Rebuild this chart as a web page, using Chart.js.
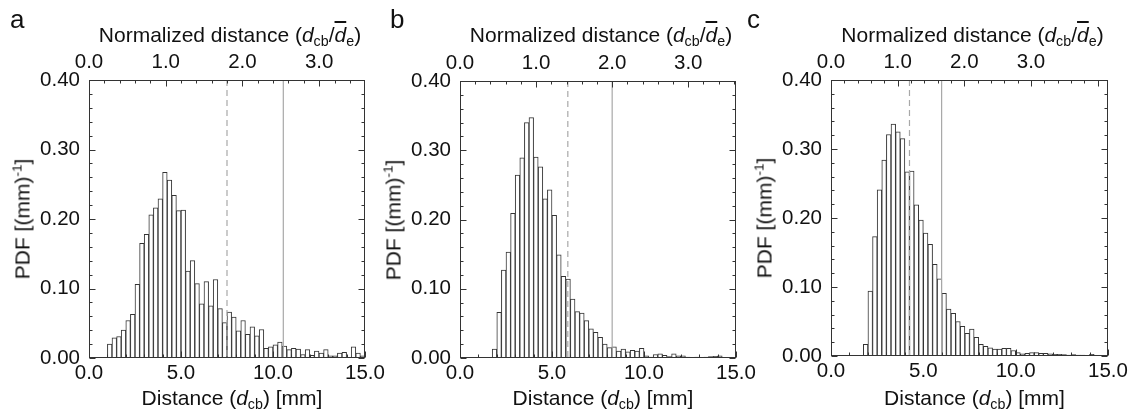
<!DOCTYPE html>
<html>
<head>
<meta charset="utf-8">
<script src="https://cdn.jsdelivr.net/npm/chart.js@4.4.1/dist/chart.umd.min.js"></script>
<style>
body { margin: 0; background: #fff; }
#fig { position: relative; width: 1137px; height: 415px; overflow: hidden; font-family: "Liberation Sans", Arial, sans-serif; color: #111; }
#fig canvas { position: absolute; top: 0; }
.lbl { position: absolute; font-size: 21px; line-height: 1; white-space: nowrap; }
.lbl sub { font-size: 0.68em; vertical-align: -0.3em; line-height: 0; }
.lbl sup { font-size: 0.65em; vertical-align: 0.6em; line-height: 0; }
.ovl { text-decoration: overline; }
.letter { position: absolute; font-size: 26px; line-height: 1; }
</style>
</head>
<body>
<div id="fig"></div>
<script>
// histogram bins: 0.25 mm wide, 0 - 15 mm
const binWidth = 0.25;
const binCount = 60;
const binLabels = Array.from({ length: binCount }, (_, i) => (i * binWidth + binWidth / 2).toFixed(3));

// PDF values, one per bin
const pdfA = [0, 0, 0, 0,
  0.020, 0.029, 0.031, 0.040, 0.054, 0.063, 0.106, 0.165, 0.178, 0.206, 0.216, 0.229, 0.267, 0.256, 0.234, 0.212,
  0.213, 0.125, 0.140, 0.107, 0.078, 0.110, 0.075, 0.113, 0.071, 0.051, 0.066, 0.059, 0.039, 0.054, 0.034, 0.045,
  0.032, 0.041, 0.014, 0.016, 0.019, 0.023, 0.017, 0.012, 0.014, 0.013, 0.005, 0.012, 0.004, 0.010, 0.007, 0.012,
  0.003, 0.003, 0.007, 0.008, 0.001, 0.016, 0.007, 0.003];
const pdfB = [0, 0, 0, 0, 0, 0, 0,
  0.013, 0.066, 0.127, 0.153, 0.209, 0.264, 0.289, 0.340, 0.347, 0.290, 0.276, 0.230, 0.243, 0.206, 0.149, 0.118,
  0.114, 0.085, 0.067, 0.065, 0.054, 0.042, 0.037, 0.030, 0.020, 0.015, 0.016, 0.010, 0.013, 0.009, 0.011, 0.010,
  0.014, 0.003, 0.0015, 0.005, 0.006, 0.004, 0.002, 0.006, 0.003, 0.003, 0.0015, 0.001, 0.0015, 0.001, 0.0015,
  0.002, 0.0025, 0.003, 0.001, 0, 0];
const pdfC = [0, 0, 0, 0, 0, 0, 0,
  0.017, 0.094, 0.173, 0.241, 0.284, 0.321, 0.336, 0.325, 0.315, 0.267, 0.268, 0.219, 0.197, 0.178, 0.162, 0.133,
  0.112, 0.091, 0.068, 0.062, 0.050, 0.043, 0.033, 0.039, 0.027, 0.017, 0.014, 0.012, 0.010, 0.010, 0.011, 0.011,
  0.008, 0.005, 0.003, 0.004, 0.005, 0.005, 0.004, 0.004, 0.003, 0.0025, 0.0025, 0.002, 0.0015, 0.002, 0.0015,
  0.0015, 0.001, 0.0025, 0.001, 0.0005, 0];

// mean spacing d_e (mm) used for the top axis, and the two marker lines (mm)
const meanSpacing = [4.17, 4.135, 3.61];
const dashedAt = [7.5, 5.86, 4.25];
const solidAt = [10.56, 8.27, 5.99];

// axis ranges / ticks
const pdfMax = 0.4, pdfStep = 0.1, pdfMinor = 0.02;
const distMax = 15, distStep = 5, distMinor = 1;
const normStep = 1, normMinor = 0.2, normLastLabel = 3;

const FONT = { family: '"Liberation Sans", Arial, sans-serif', size: 20.5 };
const TEXT = '#111';
const FRAME = '#333';
const H = 415;

const panels = [
  { letter: 'a', values: pdfA, canvasX: 0, canvasW: 400, area: { left: 89, right: 365, top: 80, bottom: 358 }, letterX: 10 },
  { letter: 'b', values: pdfB, canvasX: 370, canvasW: 420, area: { left: 460, right: 736, top: 81, bottom: 358 }, letterX: 390 },
  { letter: 'c', values: pdfC, canvasX: 737, canvasW: 400, area: { left: 831, right: 1108, top: 80, bottom: 356 }, letterX: 747 }
];

function drawTicks(ctx, scale, step, major, side, a) {
  for (let i = 0; i * step <= scale.max + 1e-9; i++) {
    const v = i * step;
    const r = v / major;
    const len = Math.abs(r - Math.round(r)) < 1e-6 ? 6 : 3;
    const p = Math.round(scale.getPixelForValue(v)) + 0.5;
    ctx.beginPath();
    if (side === 'left') { ctx.moveTo(a.left, p); ctx.lineTo(a.left + len, p); }
    if (side === 'right') { ctx.moveTo(a.right, p); ctx.lineTo(a.right - len, p); }
    if (side === 'bottom') { ctx.moveTo(p, a.bottom); ctx.lineTo(p, a.bottom - len); }
    if (side === 'top') { ctx.moveTo(p, a.top); ctx.lineTo(p, a.top + len); }
    ctx.stroke();
  }
}

const frameAndLines = {
  id: 'frameAndLines',
  afterDatasetsDraw(chart, args, opts) {
    const { ctx, chartArea: a, scales } = chart;
    ctx.save();
    // marker lines
    const xm = scales.xmm;
    ctx.lineWidth = 1.2;
    ctx.strokeStyle = '#a8a8a8';
    ctx.setLineDash([6, 4]);
    let px = xm.getPixelForValue(opts.dashed);
    ctx.beginPath(); ctx.moveTo(px, a.top); ctx.lineTo(px, a.bottom); ctx.stroke();
    ctx.setLineDash([]);
    px = xm.getPixelForValue(opts.solid);
    ctx.beginPath(); ctx.moveTo(px, a.top); ctx.lineTo(px, a.bottom); ctx.stroke();

    // frame
    ctx.strokeStyle = FRAME;
    ctx.lineWidth = 1;
    ctx.strokeRect(a.left + 0.5, a.top + 0.5, a.right - a.left - 1, a.bottom - a.top - 1);
    const b = { left: a.left + 0.5, right: a.right - 0.5, top: a.top + 0.5, bottom: a.bottom - 0.5 };
    drawTicks(ctx, scales.y, pdfMinor, pdfStep, 'left', b);
    drawTicks(ctx, scales.y, pdfMinor, pdfStep, 'right', b);
    drawTicks(ctx, scales.xmm, distMinor, distStep, 'bottom', b);
    drawTicks(ctx, scales.xn, normMinor, normStep, 'top', b);
    ctx.restore();
  }
};

const fig = document.getElementById('fig');

function addLabel(html, cls, css) {
  const d = document.createElement('div');
  d.className = cls;
  d.innerHTML = html;
  Object.assign(d.style, css);
  fig.appendChild(d);
  return d;
}

panels.forEach((p, idx) => {
  const canvas = document.createElement('canvas');
  canvas.width = p.canvasW;
  canvas.height = H;
  canvas.style.left = p.canvasX + 'px';
  fig.appendChild(canvas);
  const ar = p.area;

  new Chart(canvas.getContext('2d'), {
    type: 'bar',
    data: {
      labels: binLabels,
      datasets: [{
        data: p.values,
        xAxisID: 'x',
        yAxisID: 'y',
        backgroundColor: '#fff',
        borderColor: '#333',
        borderWidth: 1,
        categoryPercentage: 1,
        barPercentage: 1
      }]
    },
    options: {
      responsive: false,
      animation: false,
      events: [],
      layout: { padding: { left: 0, top: 0, bottom: 0, right: p.canvasW - (ar.right - p.canvasX) } },
      plugins: {
        legend: { display: false },
        tooltip: { enabled: false },
        frameAndLines: { dashed: dashedAt[idx], solid: solidAt[idx] }
      },
      scales: {
        x: { type: 'category', display: false },
        y: {
          min: 0, max: pdfMax,
          ticks: { stepSize: pdfStep, padding: 9, font: FONT, color: TEXT, autoSkip: false, callback: v => v.toFixed(2) },
          grid: { display: false, drawTicks: false },
          border: { display: false },
          afterFit: s => { s.width = ar.left - p.canvasX; s.paddingTop = 0; s.paddingBottom = 0; }
        },
        xmm: {
          type: 'linear', position: 'bottom', min: 0, max: distMax, offset: false,
          ticks: { stepSize: distStep, padding: 3, font: FONT, color: TEXT, autoSkip: false, maxRotation: 0, includeBounds: false, callback: v => v.toFixed(1) },
          grid: { display: false, drawTicks: false, offset: false },
          border: { display: false },
          afterFit: s => { s.height = H - ar.bottom; s.paddingLeft = 0; s.paddingRight = 0; }
        },
        xn: {
          type: 'linear', position: 'top', min: 0, max: distMax / meanSpacing[idx], offset: false,
          ticks: { stepSize: normStep, padding: 5, font: FONT, color: TEXT, autoSkip: false, maxRotation: 0, includeBounds: false,
            callback: v => v <= normLastLabel + 1e-6 ? v.toFixed(1) : '' },
          grid: { display: false, drawTicks: false, offset: false },
          border: { display: false },
          afterFit: s => { s.height = ar.top; s.paddingLeft = 0; s.paddingRight = 0; }
        }
      }
    },
    plugins: [frameAndLines]
  });

  const mid = (ar.left + ar.right) / 2;
  addLabel(p.letter, 'letter', { left: p.letterX + 'px', top: '6px' });
  addLabel('Normalized distance (<i>d</i><sub>cb</sub>/<i class="ovl">d</i><sub>e</sub>)', 'lbl',
    { left: (mid + 3) + 'px', top: '24px', transform: 'translateX(-50%)' });
  addLabel('Distance (<i>d</i><sub>cb</sub>) [mm]', 'lbl',
    { left: (mid + 5) + 'px', top: '387px', transform: 'translateX(-50%)' });
  addLabel('PDF [(mm)<sup>-1</sup>]', 'lbl',
    { left: (ar.left - 67) + 'px', top: ((ar.top + ar.bottom) / 2) + 'px', transform: 'translate(-50%, -50%) rotate(-90deg)' });
});
</script>
</body>
</html>
